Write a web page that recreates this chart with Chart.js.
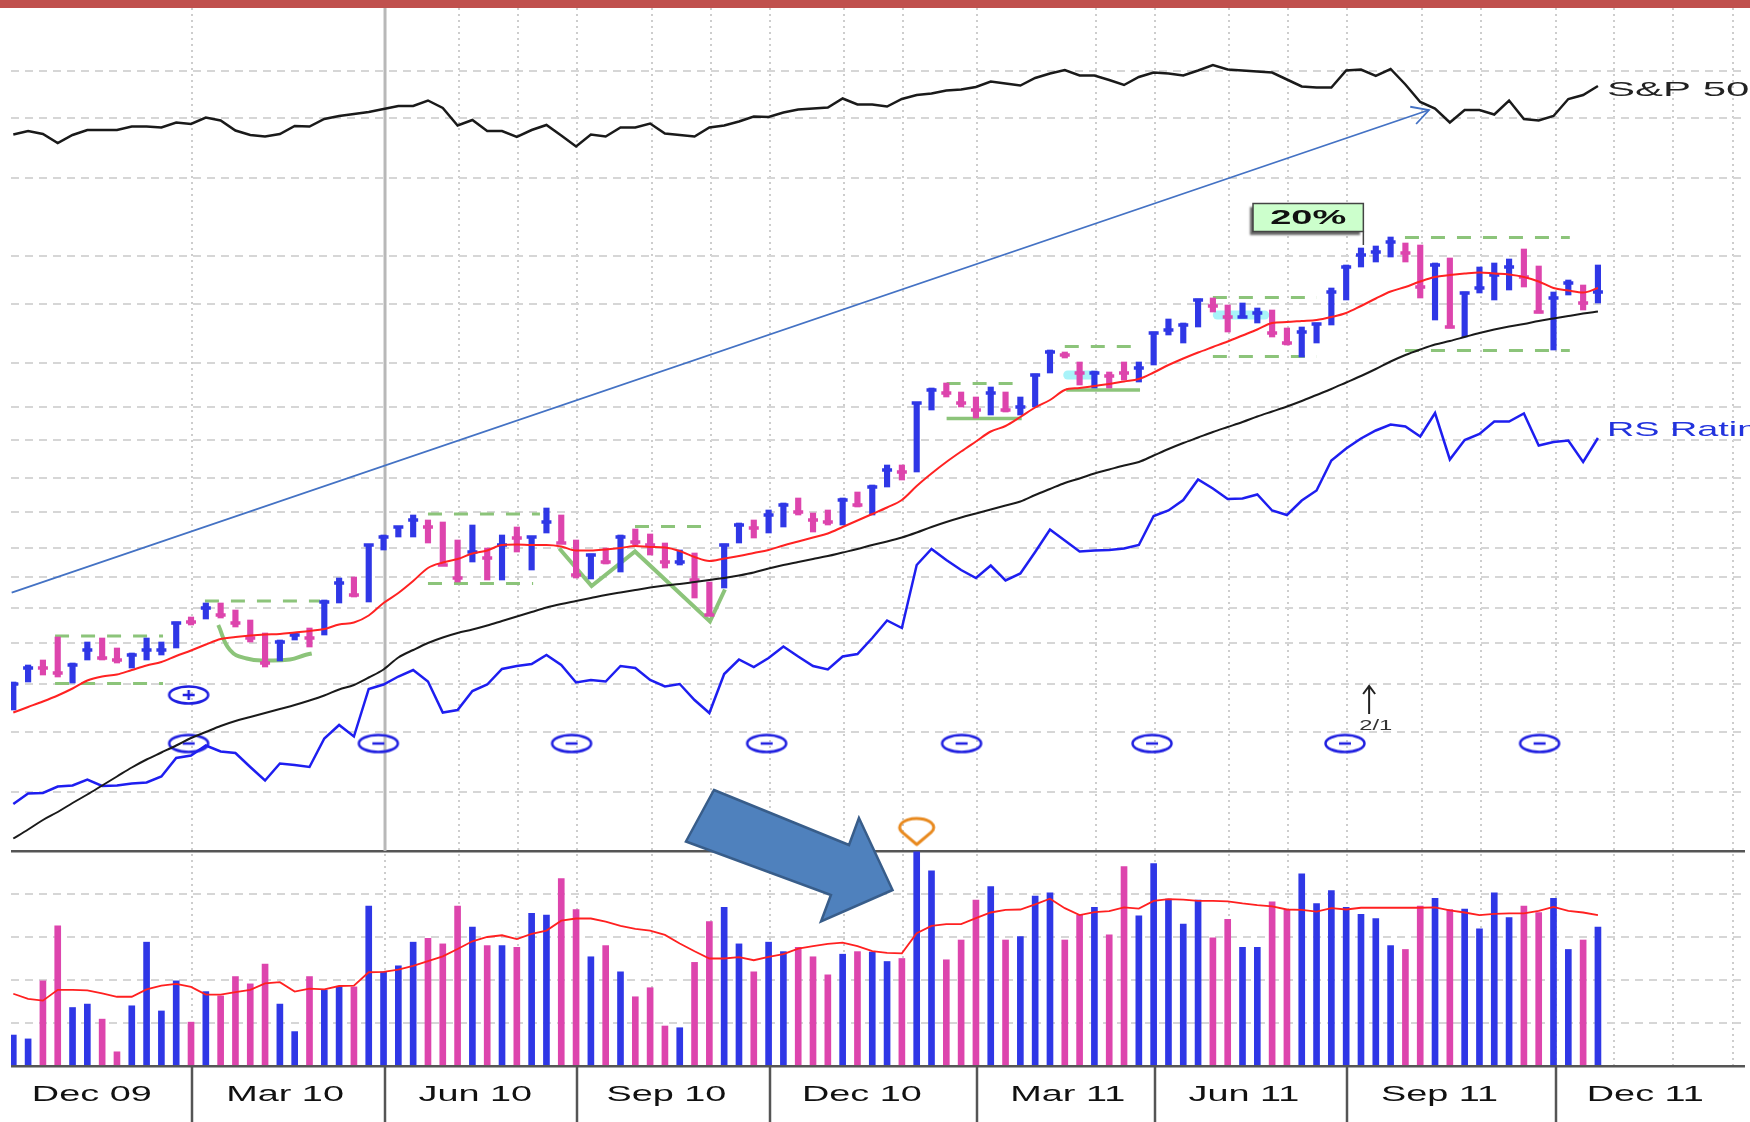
<!DOCTYPE html>
<html>
<head>
<meta charset="utf-8">
<title>Weekly price and volume chart</title>
<script src="https://cdn.jsdelivr.net/npm/chart.js@4.4.1/dist/chart.umd.min.js"></script>
<style>
  html, body { margin: 0; padding: 0; background: #fff; }
  #chart { display: block; }
</style>
</head>
<body>
<canvas id="chart" width="1750" height="1122"></canvas>
<script>
// --- AXIS SETUP (weeks on x, arbitrary price units on y) ---
const X_MIN = -0.155, X_MAX = 116.93;
const PRICE_MAX = 168.6, VOL_MAX = 5;

const xLabels = ["Dec 09", "Mar 10", "Jun 10", "Sep 10", "Dec 10", "Mar 11", "Jun 11", "Sep 11", "Dec 11"];
const xLabelWeeks = [5.3, 18.35, 31.2, 44.1, 57.3, 71.2, 83.1, 96.3, 110.2];
const quarterWeeks = [12.05, 25.1, 38.05, 51.1, 65.05, 77.1, 90.05, 104.15];
const monthWeeks = [12.05, 25.1, 30.1, 34.1, 38.05, 43.1, 47.1, 51.1, 56.1, 60.1, 65.05, 73.1, 77.1,
  82.1, 86.1, 90.05, 95.1, 99.1, 104.15, 108.1, 112.1, 116.1];
const priceGrid = [11.86, 23.8, 33.46, 41.6, 48.54, 54.74, 60.6, 67.8, 74.54, 82.2, 88.86, 97.66,
  109.34, 119, 134.54, 146.54, 156.06];
const volGrid = [0, 1, 2, 3, 4, 5];
const markerLineWeek = 25.1;

// --- WEEKLY DATA ---
const barHigh = [33.8,37.2,38.2,42.8,37.6,41.8,42.6,40.6,39.6,42.6,
  41.8,45.8,46.8,49.6,49.6,48.2,46.2,43.6,42.2,43.6,
  44.6,50.2,54.6,54.8,61.2,63.2,64.8,67.2,66.2,65.8,
  62.2,65.2,60.6,63.2,64.8,62.8,68.6,67.2,62.2,59.4,
  60.6,63.2,64.4,63.4,61.6,60.2,59.6,53.8,61.4,65.6,
  66.2,68.2,69.6,70.6,67.6,68.2,70.6,71.8,73.2,77.2,
  77.2,89.6,92.6,93.6,91.8,90.8,92.8,91.8,90.8,95.4,
  100.2,99.8,97.8,96,95.8,97.8,97.8,103.8,106.4,105.6,
  110.4,110.6,109.2,109.6,108.6,108.2,104.6,104.8,105.6,112.6,
  117.2,120.6,121,122.8,121.6,121.2,117.6,118.6,111.8,116.8,
  117.6,118.4,120.4,117,111.8,114.2,113.2,117.2];
const barLow = [28.2,33.8,35.2,34.8,33.6,38.2,38.2,37.6,36.6,38.2,
  39.2,40.6,45.2,46.4,46.6,44.8,41.8,36.8,38,42.2,
  40.8,43.2,49.6,50.8,49.8,60.2,62.8,62.8,61.6,57.2,
  53.8,57.8,54.2,54.2,59.8,56.2,63.6,61.6,54.6,54.4,
  57.4,55.8,61.2,59.2,56.6,57.2,50.6,47.2,52.6,61.6,
  62.6,63.6,64.8,67.2,63.8,65.2,65.2,68.8,67.2,72.8,
  74.2,75.8,88.2,90.8,88.8,86.6,87.2,87.8,87.2,88.8,
  95.6,98.6,93.2,92.6,92.6,94.2,93.8,97.2,103.2,101.6,
  104.8,107.8,103.8,106.6,105.6,102.8,101.2,98.8,101.6,105.2,
  110.2,116.8,117.8,118.8,117.8,110.6,106.2,104.6,102.8,111.6,
  110.2,112.2,112.8,107.6,100.2,111.2,108.2,109.6];
const barClose = [33.4,36.6,36.6,35.6,37.2,40.2,38.6,38.2,39.2,40.2,
  40.2,45.6,45.8,48.6,47.2,45.6,42.6,37.6,41.8,43.2,
  42.6,49.8,53.6,51.2,61.2,62.8,64.8,66.2,64.8,57.2,
  54.6,59.8,58.6,61.2,62.6,62.8,65.8,61.6,55.2,59.2,
  57.8,62.8,61.8,61.2,57.8,57.8,54.2,47.2,61.2,65.2,
  64.6,67.2,69.2,67.8,66.2,65.8,70.2,69.2,72.8,76.2,
  75.8,89.6,92.2,91.6,89.6,88.2,91.6,88.2,88.8,95.2,
  99.8,99.2,95.6,95.6,95,95.6,96.6,103.6,104.2,105.2,
  110.2,109,106.8,106.8,107.6,103.6,101.6,103.8,105.4,111.8,
  116.8,119.2,119.8,121.8,119.6,112.8,117.2,104.8,111.6,112.6,
  115.2,116.8,114.8,107.8,110.6,113.6,109.6,111.8];
// 1 = up week (blue), 0 = down week (pink)
const weekUp = [1,1,0,0,1,1,0,0,1,1, 1,1,0,1,0,0,0,0,1,1, 0,1,1,0,1,1,1,1,0,0,
  0,1,0,1,0,1,1,0,0,1, 0,1,0,0,0,1,0,0,1,1, 0,1,1,0,0,0,1,0,1,1,
  0,1,1,0,0,0,1,0,1,1, 1,0,0,1,0,0,1,1,1,1, 1,0,0,1,1,0,0,1,1,1,
  1,1,1,1,0,0,1,0,1,1, 1,1,0,0,1,1,0,1];
const ma50 = [27.7,28.8,29.9,31.1,32.5,34.1,34.9,35.3,36.2,37.1,
  37.8,39.0,40.1,41.3,42.4,42.8,43.1,43.3,43.4,43.7,
  44.0,44.4,45.3,45.7,47.1,49.6,51.6,54.0,56.6,57.7,
  58.4,59.5,60.1,61.2,61.3,61.2,61.2,60.9,60.1,60.1,
  60.3,60.6,61.0,60.8,60.7,60.0,58.8,58.0,58.5,59.0,
  59.6,60.2,61.1,61.9,62.7,63.5,64.8,66.1,67.4,68.7,
  70.2,73.0,75.5,77.8,79.9,81.9,83.9,85.0,86.8,88.7,
  90.2,92.2,92.6,93.0,93.4,93.9,94.4,95.7,97.2,98.5,
  99.7,100.8,101.9,103.1,104.3,105.6,105.8,106.0,106.2,106.8,
  107.6,109.0,110.5,111.9,112.8,113.9,114.8,115.2,115.5,115.7,
  115.5,115.3,114.8,113.9,112.6,112.1,111.7,112.6];
const ma200 = [2.5,4.3,6.2,7.8,9.6,11.3,13.1,14.9,16.7,18.3,
  19.7,21.1,22.6,23.8,25.0,26.0,26.8,27.6,28.4,29.2,
  30.1,31.1,32.3,33.2,34.7,36.3,38.7,40.2,41.6,42.7,
  43.6,44.3,45.1,46.0,46.9,47.8,48.7,49.4,50.0,50.6,
  51.2,51.7,52.2,52.7,53.1,53.4,53.8,54.2,54.6,55.1,
  55.7,56.5,57.2,57.8,58.4,59.0,59.7,60.4,61.2,61.9,
  62.7,63.7,64.8,65.8,66.7,67.5,68.3,69.1,69.9,71.2,
  72.4,73.6,74.5,75.5,76.3,77.1,77.8,79.1,80.4,81.6,
  82.7,83.8,84.8,85.8,86.9,87.9,88.9,90.0,91.2,92.4,
  93.7,95.0,96.4,97.9,99.2,100.3,101.3,102.0,102.8,103.6,
  104.3,104.9,105.4,106.0,106.5,107.0,107.5,107.9];
const rsLine = [9.4,11.5,11.6,12.9,13.1,14.3,13.0,13.1,13.5,13.7,
  14.9,18.6,19.1,21.1,19.9,19.6,16.8,14.1,17.5,17.2,
  16.8,22.5,25.2,22.9,32.4,33.3,34.9,36.2,33.9,27.7,
  28.2,32.0,33.3,36.4,37.0,37.4,39.2,37.2,33.7,34.2,
  33.9,37.0,36.6,34.2,32.9,33.4,30.2,27.6,35.4,38.3,
  36.8,38.6,40.9,38.9,37.0,36.3,38.9,39.4,42.6,46.1,
  44.6,57.2,60.4,58.2,56.2,54.6,57.1,54.1,55.5,59.8,
  64.3,62.1,59.9,60.1,60.2,60.5,61.2,67.0,68.1,70.2,
  74.3,72.5,70.4,70.5,71.3,68.1,67.2,70.1,72.1,78.1,
  80.5,82.5,84.1,85.3,84.9,82.9,87.6,78.3,82.2,83.4,
  85.9,85.9,87.5,81.1,81.8,82.1,77.8,82.6];
const spLine = [143.3,144.0,143.4,141.6,143.2,144.2,144.2,144.2,144.9,144.9,
  144.7,145.7,145.4,146.7,146.1,144.1,143.2,142.9,143.4,145.0,
  144.9,146.4,147.0,147.4,147.8,148.4,149.0,149.0,150.1,148.6,
  145.1,146.2,144.0,144.0,142.8,144.2,145.2,143.1,140.9,143.3,
  142.9,144.7,144.7,145.5,143.5,143.2,142.9,144.7,145.1,145.9,
  146.9,146.8,147.7,148.3,148.5,148.7,150.5,149.3,149.3,148.9,
  150.4,151.2,151.5,152.1,152.3,152.8,153.9,153.5,153.1,154.6,
  155.5,156.2,155.1,155.1,154.2,153.2,154.8,155.7,155.5,155.1,
  156.1,157.2,156.3,156.1,155.9,155.7,154.3,152.9,152.7,152.7,
  156.1,156.3,155.0,156.4,153.3,149.8,148.5,145.7,148.2,148.2,
  147.3,150.1,146.4,146.1,147.0,150.4,151.2,153.0];
const volume = [0.72,0.63,1.98,3.26,1.36,1.44,1.09,0.33,1.40,2.88,
  1.28,1.98,1.02,1.73,1.63,2.08,1.91,2.37,1.44,0.80,
  2.08,1.77,1.84,1.84,3.72,2.19,2.33,2.88,2.97,2.84,
  3.72,3.23,2.80,2.80,2.76,3.55,3.51,4.36,3.64,2.54,
  2.80,2.19,1.61,1.82,0.93,0.89,2.41,3.36,3.69,2.84,
  2.19,2.88,2.66,2.76,2.54,2.12,2.60,2.66,2.65,2.43,
  2.50,4.98,4.54,2.47,2.93,3.86,4.17,2.93,3.01,3.95,
  4.03,2.93,3.51,3.69,3.05,4.64,3.49,4.71,3.88,3.30,
  3.86,2.98,3.41,2.76,2.76,3.82,3.63,4.47,3.78,4.08,
  3.69,3.53,3.43,2.80,2.71,3.72,3.90,3.64,3.65,3.19,
  4.03,3.45,3.72,3.57,3.90,2.71,2.93,3.23];
const volumeMA = [1.68,1.56,1.52,1.77,1.77,1.76,1.69,1.61,1.61,1.78,
  1.87,1.91,1.84,1.66,1.66,1.72,1.77,1.92,1.95,1.73,
  1.80,1.78,1.86,1.87,2.18,2.19,2.24,2.33,2.44,2.55,
  2.72,2.90,3.00,3.04,2.95,3.07,3.15,3.38,3.43,3.43,
  3.36,3.26,3.19,3.15,3.05,2.85,2.67,2.50,2.50,2.53,
  2.46,2.54,2.60,2.73,2.79,2.84,2.87,2.79,2.67,2.63,
  2.62,3.09,3.26,3.30,3.30,3.44,3.57,3.63,3.64,3.76,
  3.89,3.67,3.51,3.58,3.60,3.69,3.66,3.84,3.88,3.87,
  3.84,3.84,3.83,3.78,3.74,3.71,3.64,3.63,3.59,3.67,
  3.64,3.68,3.68,3.68,3.68,3.68,3.69,3.62,3.57,3.51,
  3.54,3.55,3.55,3.61,3.70,3.61,3.57,3.51];

// --- ANNOTATIONS (week, level) ---
const baseTopsDashed = [[2.82,10.11,43.0],[12.94,20.71,50.0],[28.0,35.56,67.4],[41.98,47.16,64.9],
  [63.02,68.09,93.5],[71.0,76.08,100.9],[81.0,88.03,110.7],[93.97,105.1,122.7]];
const baseBottomsDashed = [[2.82,10.11,33.5],[28.0,35.1,53.5],[81.0,88.03,98.9],[93.97,105.1,100.1]];
const baseBottomsSolid = [[63.02,68.09,86.5],[71.1,76.08,92.2]];
const cupCurve = [[13.84,45.2],[14.63,40.2],[15.76,38.5],[17.11,38.1],[18.68,38.3],[19.7,39.2],[20.15,39.5]];
const wPattern = [[36.87,60.5],[39.05,53.0],[41.98,59.9],[47.04,45.9],[48.05,52.3]];
const cyanMarks = [[71.2,72.8,95.2],[81.3,84.5,107.2]];
const trendLine = [[-0.11,51.66],[95.59,148.2]];
const earningsMinusWeeks = [-1.0, 11.84, 24.65, 37.7, 50.87, 64.03, 76.89, 89.92, 103.06];
const earningsMinusLevel = 21.5;
const earningsPlus = [[11.84, 31.2]];
const pinMark = [[61, 3.9]];
const blockArrow = [[47.31,12.2],[56.43,1.2],[57.1,6.6],[59.37,-7.8],[54.54,-14.1],[55.21,-8.8],[45.42,1.9]];
const pctBox = { text: "20%", left: 83.71, right: 91.16, top: 129.5, bottom: 123.9, tail: 121.2 };
const splitMark = { week: 91.55, from: 27.4, to: 33.0, text: "2/1", textWeek: 92.0, textLevel: 24.9 };

const UP = "#2f37e6", DOWN = "#dd45ad", GREEN = "#8cc47a";
const weeks = barHigh.map((_, i) => i);
const pts = (arr) => arr.map((v, i) => ({ x: i, y: v }));
const seg = (a, b, lvl) => [{ x: a, y: lvl }, { x: b, y: lvl }];

// --- POINT IMAGES ---
function makeEarnIcon(plus) {
  const c = document.createElement("canvas");
  c.width = 46; c.height = 22;
  const g = c.getContext("2d");
  g.strokeStyle = "#2020e0"; g.lineWidth = 2.5;
  g.beginPath(); g.ellipse(23, 11, 19.5, 8.5, 0, 0, Math.PI * 2); g.stroke();
  g.beginPath(); g.moveTo(17, 11); g.lineTo(29, 11);
  if (plus) { g.moveTo(23, 6); g.lineTo(23, 16); }
  g.stroke();
  return c;
}
function makePin() {
  const c = document.createElement("canvas");
  c.width = 44; c.height = 32;
  const g = c.getContext("2d");
  g.strokeStyle = "#e8891e"; g.lineWidth = 3; g.lineJoin = "round";
  g.beginPath();
  g.moveTo(22, 29);
  g.ellipse(22, 12, 17, 9, 0, Math.PI * 0.82, Math.PI * 2.18);
  g.closePath();
  g.stroke();
  return c;
}

function stretchText(ctx, txt, x, y, font, color, sx, align) {
  ctx.save();
  ctx.font = font; ctx.fillStyle = color; ctx.textBaseline = "middle";
  ctx.textAlign = align || "left";
  ctx.translate(x, y); ctx.scale(sx, 1);
  ctx.fillText(txt, 0, 0);
  ctx.restore();
}

// --- PLUGIN: background, annotations, axis labels ---
const decorations = {
  id: "decorations",
  beforeDraw(chart) {
    const { ctx, width, height } = chart;
    ctx.save();
    ctx.fillStyle = "#fff"; ctx.fillRect(0, 0, width, height);
    ctx.fillStyle = "#c0504d"; ctx.fillRect(0, 0, width, 8);
    ctx.restore();
  },
  beforeDatasetsDraw(chart) {
    const { ctx, scales: { x, y } } = chart;
    const px = x.getPixelForValue(markerLineWeek);
    ctx.save();
    ctx.strokeStyle = "#b8b8b8"; ctx.lineWidth = 3;
    ctx.beginPath(); ctx.moveTo(px, y.top); ctx.lineTo(px, y.bottom); ctx.stroke();
    ctx.restore();
  },
  afterDatasetsDraw(chart) {
    const { ctx, scales: { x, y } } = chart;
    const X = (v) => x.getPixelForValue(v), Y = (v) => y.getPixelForValue(v);
    ctx.save();

    // trend line arrow head
    const [p0, p1] = trendLine;
    const ang = Math.atan2(Y(p1[1]) - Y(p0[1]), X(p1[0]) - X(p0[0]));
    const tx = X(p1[0]), ty = Y(p1[1]);
    ctx.strokeStyle = "#4472c4"; ctx.lineWidth = 1.8;
    ctx.beginPath();
    ctx.moveTo(tx - 19 * Math.cos(ang - 0.5), ty - 19 * Math.sin(ang - 0.5));
    ctx.lineTo(tx, ty);
    ctx.lineTo(tx - 19 * Math.cos(ang + 0.5), ty - 19 * Math.sin(ang + 0.5));
    ctx.stroke();

    // block arrow
    ctx.beginPath();
    blockArrow.forEach((p, i) => (i ? ctx.lineTo(X(p[0]), Y(p[1])) : ctx.moveTo(X(p[0]), Y(p[1]))));
    ctx.closePath();
    ctx.fillStyle = "#4f81bd"; ctx.fill();
    ctx.strokeStyle = "#385d8a"; ctx.lineWidth = 2.5; ctx.lineJoin = "miter"; ctx.stroke();

    // 20% box
    const bx0 = X(pctBox.left), bx1 = X(pctBox.right), by0 = Y(pctBox.top), by1 = Y(pctBox.bottom);
    ctx.save();
    ctx.shadowColor = "rgba(0,0,0,0.6)"; ctx.shadowOffsetX = -3; ctx.shadowOffsetY = 3; ctx.shadowBlur = 2;
    ctx.fillStyle = "#ccffcc"; ctx.fillRect(bx0, by0, bx1 - bx0, by1 - by0);
    ctx.restore();
    ctx.strokeStyle = "#444"; ctx.lineWidth = 1.5;
    ctx.strokeRect(bx0, by0, bx1 - bx0, by1 - by0);
    ctx.beginPath(); ctx.moveTo(bx1, by1); ctx.lineTo(bx1, Y(pctBox.tail)); ctx.stroke();
    stretchText(ctx, pctBox.text, (bx0 + bx1) / 2, (by0 + by1) / 2 + 1, "bold 20px 'Liberation Sans', Arial", "#111", 1.9, "center");

    // series labels
    const last = barHigh.length - 1;
    stretchText(ctx, "S&P 500", X(last) + 9, Y(spLine[last]) + 4, "21px 'Liberation Sans', Arial", "#222", 2.0);
    stretchText(ctx, "RS Rating", X(last) + 9, Y(rsLine[last]) - 8, "21px 'Liberation Sans', Arial", "#2233dd", 1.8);

    // split marker
    const sx = X(splitMark.week), sTop = Y(splitMark.to), sBot = Y(splitMark.from);
    ctx.strokeStyle = "#222"; ctx.lineWidth = 2;
    ctx.beginPath(); ctx.moveTo(sx, sBot); ctx.lineTo(sx, sTop);
    ctx.moveTo(sx - 6, sTop + 8); ctx.lineTo(sx, sTop); ctx.lineTo(sx + 6, sTop + 8);
    ctx.stroke();
    stretchText(ctx, splitMark.text, X(splitMark.textWeek), Y(splitMark.textLevel), "14px 'Liberation Sans', Arial", "#333", 1.7, "center");
    ctx.restore();
  },
  afterDraw(chart) {
    const { ctx, chartArea, height, scales: { x } } = chart;
    ctx.save();
    ctx.strokeStyle = "#555"; ctx.lineWidth = 2.5;
    quarterWeeks.forEach((w) => {
      const px = Math.round(x.getPixelForValue(w));
      ctx.beginPath(); ctx.moveTo(px, chartArea.bottom); ctx.lineTo(px, height); ctx.stroke();
    });
    x.ticks.forEach((t, i) => {
      stretchText(ctx, xLabels[i], x.getPixelForValue(t.value), chartArea.bottom + 29,
        "22px 'Liberation Sans', Arial", "#111", 1.72, "center");
    });
    ctx.restore();
  },
};

// --- DATASETS ---
const lineStyle = { type: "line", pointRadius: 0, xAxisID: "x", yAxisID: "y", fill: false };
const datasets = [
  { type: "scatter", order: 1, data: weeks.map((i) => ({ x: i, y: barClose[i] })), xAxisID: "x", yAxisID: "y",
    pointStyle: "line", pointRadius: 5, pointBorderWidth: 3.5,
    pointBorderColor: weekUp.map((u) => (u ? UP : DOWN)), pointBackgroundColor: weekUp.map((u) => (u ? UP : DOWN)) },
  { type: "bar", order: 2, data: weeks.map((i) => ({ x: i, y: [barLow[i], barHigh[i]] })), xAxisID: "x", yAxisID: "y",
    backgroundColor: weekUp.map((u) => (u ? UP : DOWN)), barThickness: 5.5, grouped: false, borderWidth: 0 },
  { ...lineStyle, order: 0, data: pts(ma50), borderColor: "#ff2222", borderWidth: 2, cubicInterpolationMode: "monotone" },
  { ...lineStyle, order: 0, data: pts(ma200), borderColor: "#1a1a1a", borderWidth: 2, cubicInterpolationMode: "monotone" },
  { ...lineStyle, order: 3, data: pts(rsLine), borderColor: "#1e1ef0", borderWidth: 2.5, tension: 0 },
  { ...lineStyle, order: 3, data: pts(spLine), borderColor: "#1a1a1a", borderWidth: 2.5, tension: 0 },
  { ...lineStyle, order: 4, data: trendLine.map((p) => ({ x: p[0], y: p[1] })), borderColor: "#4472c4", borderWidth: 1.8 },
  { ...lineStyle, order: 5, data: cupCurve.map((p) => ({ x: p[0], y: p[1] })), borderColor: GREEN, borderWidth: 4, tension: 0.45 },
  { ...lineStyle, order: 5, data: wPattern.map((p) => ({ x: p[0], y: p[1] })), borderColor: GREEN, borderWidth: 4, tension: 0 },
  { type: "scatter", order: 3, data: earningsMinusWeeks.map((w) => ({ x: w, y: earningsMinusLevel })), xAxisID: "x", yAxisID: "y",
    pointStyle: makeEarnIcon(false), pointRadius: 10 },
  { type: "scatter", order: 3, data: earningsPlus.map((p) => ({ x: p[0], y: p[1] })), xAxisID: "x", yAxisID: "y",
    pointStyle: makeEarnIcon(true), pointRadius: 10 },
  { type: "scatter", order: 3, data: pinMark.map((p) => ({ x: p[0], y: p[1] })), xAxisID: "x", yAxisID: "y",
    pointStyle: makePin(), pointRadius: 12, clip: false },
  { type: "bar", order: 9, data: weeks.map((i) => ({ x: i, y: volume[i] })), xAxisID: "x", yAxisID: "yv",
    backgroundColor: weekUp.map((u) => (u ? UP : DOWN)), barThickness: 6, grouped: false, borderWidth: 0 },
  { type: "line", order: 8, data: pts(volumeMA), xAxisID: "x", yAxisID: "yv", pointRadius: 0,
    borderColor: "#ff2020", borderWidth: 1.8, tension: 0 },
];
baseTopsDashed.concat(baseBottomsDashed).forEach((b) =>
  datasets.push({ ...lineStyle, order: 6, data: seg(b[0], b[1], b[2]), borderColor: GREEN, borderWidth: 3, borderDash: [14, 12] }));
baseBottomsSolid.forEach((b) =>
  datasets.push({ ...lineStyle, order: 6, data: seg(b[0], b[1], b[2]), borderColor: GREEN, borderWidth: 3.5 }));
cyanMarks.forEach((b) =>
  datasets.push({ ...lineStyle, order: 7, data: seg(b[0], b[1], b[2]), borderColor: "rgba(110,235,245,0.6)",
    borderWidth: 9, borderCapStyle: "round" }));

const hidden = { display: false };
new Chart(document.getElementById("chart"), {
  data: { datasets },
  plugins: [decorations],
  options: {
    responsive: false,
    animation: false,
    devicePixelRatio: 1,
    layout: { autoPadding: false, padding: { left: 11, right: 5, top: 8, bottom: 0 } },
    plugins: { legend: hidden, tooltip: { enabled: false } },
    events: [],
    scales: {
      x: {
        type: "linear", position: "bottom", min: X_MIN, max: X_MAX, offset: false,
        grid: { display: false, drawTicks: false, offset: false }, border: hidden, ticks: hidden,
        afterBuildTicks: (s) => { s.ticks = xLabelWeeks.map((v) => ({ value: v })); },
        afterFit: (s) => { s.height = 56; },
      },
      xg: {
        type: "linear", position: "top", min: X_MIN, max: X_MAX, offset: false,
        grid: { color: "#cdcdcd", lineWidth: 2, drawTicks: false, offset: false },
        border: { display: false, dash: [2, 4] }, ticks: hidden,
        afterBuildTicks: (s) => { s.ticks = monthWeeks.map((v) => ({ value: v })); },
        afterFit: (s) => { s.height = 0; },
      },
      yv: {
        type: "linear", position: "left", stack: "panels", stackWeight: 215, weight: 1,
        min: 0, max: VOL_MAX,
        grid: {
          drawTicks: false,
          color: (c) => (c.tick && (c.tick.value === 0 || c.tick.value === VOL_MAX) ? "#555" : "#d6d6d6"),
          lineWidth: (c) => (c.tick && (c.tick.value === 0 || c.tick.value === VOL_MAX) ? 2.5 : 2),
        },
        border: { display: false, dash: (c) => (c.tick && (c.tick.value === 0 || c.tick.value === VOL_MAX) ? [] : [8, 6]) },
        ticks: hidden,
        afterBuildTicks: (s) => { s.ticks = volGrid.map((v) => ({ value: v })); },
        afterFit: (s) => { s.width = 0; },
      },
      y: {
        type: "linear", position: "left", stack: "panels", stackWeight: 843, weight: 2,
        min: 0, max: PRICE_MAX,
        grid: { drawTicks: false, color: "#d6d6d6", lineWidth: 2 },
        border: { display: false, dash: [8, 6] },
        ticks: hidden,
        afterBuildTicks: (s) => { s.ticks = priceGrid.map((v) => ({ value: v })); },
        afterFit: (s) => { s.width = 0; },
      },
    },
  },
});
</script>
</body>
</html>
